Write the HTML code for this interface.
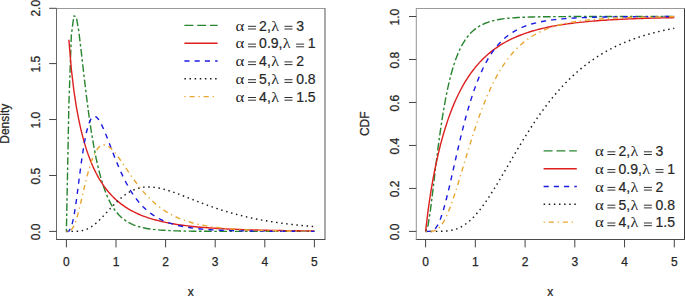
<!DOCTYPE html>
<html><head><meta charset="utf-8"><style>
html,body{margin:0;padding:0;background:#fff;}
svg{display:block;}
.t{font-family:"Liberation Sans",sans-serif;font-size:12px;fill:#262626;stroke:#262626;stroke-width:0.25px;}
.lg{font-family:"Liberation Sans",sans-serif;font-size:14px;fill:#262626;stroke:#262626;stroke-width:0.2px;}
.gk{font-family:"Liberation Serif",serif;fill:#262626;}
.eq{stroke:#333;stroke-width:1;}
</style></head><body>
<svg width="685" height="296" viewBox="0 0 685 296">
<rect width="685" height="296" fill="#fff"/>
<line x1="56.0" y1="8.5" x2="325.3" y2="8.5" stroke="#999" stroke-width="1"/>
<line x1="56.0" y1="239.5" x2="325.3" y2="239.5" stroke="#4a4a4a" stroke-width="1"/>
<line x1="56.5" y1="8.5" x2="56.5" y2="239.5" stroke="#6a6a6a" stroke-width="1"/>
<line x1="325.0" y1="8.5" x2="325.0" y2="239.5" stroke="#555" stroke-width="1"/>
<line x1="66.40" y1="239.5" x2="66.40" y2="247.40" stroke="#444" stroke-width="1"/>
<text x="66.40" y="266.30" text-anchor="middle" class="t">0</text>
<line x1="116.00" y1="239.5" x2="116.00" y2="247.40" stroke="#444" stroke-width="1"/>
<text x="116.00" y="266.30" text-anchor="middle" class="t">1</text>
<line x1="165.60" y1="239.5" x2="165.60" y2="247.40" stroke="#444" stroke-width="1"/>
<text x="165.60" y="266.30" text-anchor="middle" class="t">2</text>
<line x1="215.20" y1="239.5" x2="215.20" y2="247.40" stroke="#444" stroke-width="1"/>
<text x="215.20" y="266.30" text-anchor="middle" class="t">3</text>
<line x1="264.80" y1="239.5" x2="264.80" y2="247.40" stroke="#444" stroke-width="1"/>
<text x="264.80" y="266.30" text-anchor="middle" class="t">4</text>
<line x1="314.40" y1="239.5" x2="314.40" y2="247.40" stroke="#444" stroke-width="1"/>
<text x="314.40" y="266.30" text-anchor="middle" class="t">5</text>
<line x1="49.20" y1="231.40" x2="56.5" y2="231.40" stroke="#444" stroke-width="1"/>
<text transform="translate(39.50,232.00) rotate(-90)" text-anchor="middle" class="t">0.0</text>
<line x1="49.20" y1="175.47" x2="56.5" y2="175.47" stroke="#444" stroke-width="1"/>
<text transform="translate(39.50,176.06) rotate(-90)" text-anchor="middle" class="t">0.5</text>
<line x1="49.20" y1="119.53" x2="56.5" y2="119.53" stroke="#444" stroke-width="1"/>
<text transform="translate(39.50,120.13) rotate(-90)" text-anchor="middle" class="t">1.0</text>
<line x1="49.20" y1="63.59" x2="56.5" y2="63.59" stroke="#444" stroke-width="1"/>
<text transform="translate(39.50,64.19) rotate(-90)" text-anchor="middle" class="t">1.5</text>
<line x1="49.20" y1="8.30" x2="56.5" y2="8.30" stroke="#444" stroke-width="1"/>
<text transform="translate(39.50,8.26) rotate(-90)" text-anchor="middle" class="t">2.0</text>
<text x="190.65" y="296.00" text-anchor="middle" class="t">x</text>
<text transform="translate(9.10,123.75) rotate(-90)" text-anchor="middle" class="t">Density</text>
<line x1="415.8" y1="8.5" x2="684.8" y2="8.5" stroke="#999" stroke-width="1"/>
<line x1="415.8" y1="239.5" x2="684.8" y2="239.5" stroke="#4a4a4a" stroke-width="1"/>
<line x1="416.3" y1="8.5" x2="416.3" y2="239.5" stroke="#949494" stroke-width="1"/>
<line x1="684.5" y1="8.5" x2="684.5" y2="239.5" stroke="#3a3a3a" stroke-width="1"/>
<line x1="425.60" y1="239.5" x2="425.60" y2="247.40" stroke="#444" stroke-width="1"/>
<text x="425.60" y="266.30" text-anchor="middle" class="t">0</text>
<line x1="475.34" y1="239.5" x2="475.34" y2="247.40" stroke="#444" stroke-width="1"/>
<text x="475.34" y="266.30" text-anchor="middle" class="t">1</text>
<line x1="525.08" y1="239.5" x2="525.08" y2="247.40" stroke="#444" stroke-width="1"/>
<text x="525.08" y="266.30" text-anchor="middle" class="t">2</text>
<line x1="574.82" y1="239.5" x2="574.82" y2="247.40" stroke="#444" stroke-width="1"/>
<text x="574.82" y="266.30" text-anchor="middle" class="t">3</text>
<line x1="624.56" y1="239.5" x2="624.56" y2="247.40" stroke="#444" stroke-width="1"/>
<text x="624.56" y="266.30" text-anchor="middle" class="t">4</text>
<line x1="674.30" y1="239.5" x2="674.30" y2="247.40" stroke="#444" stroke-width="1"/>
<text x="674.30" y="266.30" text-anchor="middle" class="t">5</text>
<line x1="409.00" y1="231.40" x2="416.3" y2="231.40" stroke="#444" stroke-width="1"/>
<text transform="translate(399.30,232.00) rotate(-90)" text-anchor="middle" class="t">0.0</text>
<line x1="409.00" y1="188.42" x2="416.3" y2="188.42" stroke="#444" stroke-width="1"/>
<text transform="translate(399.30,189.02) rotate(-90)" text-anchor="middle" class="t">0.2</text>
<line x1="409.00" y1="145.44" x2="416.3" y2="145.44" stroke="#444" stroke-width="1"/>
<text transform="translate(399.30,146.04) rotate(-90)" text-anchor="middle" class="t">0.4</text>
<line x1="409.00" y1="102.46" x2="416.3" y2="102.46" stroke="#444" stroke-width="1"/>
<text transform="translate(399.30,103.06) rotate(-90)" text-anchor="middle" class="t">0.6</text>
<line x1="409.00" y1="59.48" x2="416.3" y2="59.48" stroke="#444" stroke-width="1"/>
<text transform="translate(399.30,60.08) rotate(-90)" text-anchor="middle" class="t">0.8</text>
<line x1="409.00" y1="16.50" x2="416.3" y2="16.50" stroke="#444" stroke-width="1"/>
<text transform="translate(399.30,17.10) rotate(-90)" text-anchor="middle" class="t">1.0</text>
<text x="550.30" y="296.00" text-anchor="middle" class="t">x</text>
<text transform="translate(368.90,123.75) rotate(-90)" text-anchor="middle" class="t">CDF</text>
<polyline points="66.40,231.40 68.88,104.22 71.36,35.00 73.84,15.83 76.32,17.06 78.80,31.38 81.28,51.94 83.76,73.67 86.24,94.59 88.72,113.74 91.20,130.77 93.68,145.64 96.16,158.48 98.64,169.47 101.12,178.84 103.60,186.80 106.08,193.54 108.56,199.24 111.04,204.07 113.52,208.15 116.00,211.61 118.48,214.53 120.96,217.01 123.44,219.11 125.92,220.89 128.40,222.41 130.88,223.70 133.36,224.79 135.84,225.73 138.32,226.52 140.80,227.21 143.28,227.79 145.76,228.29 148.24,228.71 150.72,229.08 153.20,229.40 155.68,229.67 158.16,229.90 160.64,230.10 163.12,230.27 165.60,230.42 168.08,230.55 170.56,230.66 173.04,230.76 175.52,230.84 178.00,230.91 180.48,230.97 182.96,231.03 185.44,231.08 187.92,231.12 190.40,231.15 192.88,231.18 195.36,231.21 197.84,231.23 200.32,231.26 202.80,231.27 205.28,231.29 207.76,231.30 210.24,231.31 212.72,231.32 215.20,231.33 217.68,231.34 220.16,231.35 222.64,231.36 225.12,231.36 227.60,231.37 230.08,231.37 232.56,231.37 235.04,231.38 237.52,231.38 240.00,231.38 242.48,231.38 244.96,231.39 247.44,231.39 249.92,231.39 252.40,231.39 254.88,231.39 257.36,231.39 259.84,231.39 262.32,231.39 264.80,231.39 267.28,231.40 269.76,231.40 272.24,231.40 274.72,231.40 277.20,231.40 279.68,231.40 282.16,231.40 284.64,231.40 287.12,231.40 289.60,231.40 292.08,231.40 294.56,231.40 297.04,231.40 299.52,231.40 302.00,231.40 304.48,231.40 306.96,231.40 309.44,231.40 311.92,231.40 314.40,231.40" fill="none" stroke="#27842F" stroke-width="1.4" stroke-dasharray="2.56 2.56 7.68 2.56" stroke-linejoin="round"/>
<polyline points="68.88,39.70 71.36,69.37 73.84,90.27 76.32,106.56 78.80,119.86 81.28,131.03 83.76,140.58 86.24,148.86 88.72,156.11 91.20,162.50 93.68,168.18 96.16,173.25 98.64,177.80 101.12,181.91 103.60,185.61 106.08,188.98 108.56,192.04 111.04,194.83 113.52,197.38 116.00,199.72 118.48,201.86 120.96,203.83 123.44,205.65 125.92,207.32 128.40,208.87 130.88,210.30 133.36,211.62 135.84,212.85 138.32,213.99 140.80,215.05 143.28,216.03 145.76,216.95 148.24,217.80 150.72,218.60 153.20,219.34 155.68,220.03 158.16,220.68 160.64,221.29 163.12,221.86 165.60,222.39 168.08,222.89 170.56,223.35 173.04,223.79 175.52,224.21 178.00,224.59 180.48,224.96 182.96,225.30 185.44,225.62 187.92,225.92 190.40,226.21 192.88,226.48 195.36,226.73 197.84,226.97 200.32,227.20 202.80,227.41 205.28,227.61 207.76,227.80 210.24,227.98 212.72,228.15 215.20,228.31 217.68,228.46 220.16,228.60 222.64,228.74 225.12,228.87 227.60,228.99 230.08,229.11 232.56,229.22 235.04,229.32 237.52,229.42 240.00,229.51 242.48,229.60 244.96,229.68 247.44,229.76 249.92,229.84 252.40,229.91 254.88,229.98 257.36,230.05 259.84,230.11 262.32,230.17 264.80,230.22 267.28,230.28 269.76,230.33 272.24,230.37 274.72,230.42 277.20,230.46 279.68,230.50 282.16,230.54 284.64,230.58 287.12,230.62 289.60,230.65 292.08,230.68 294.56,230.72 297.04,230.75 299.52,230.77 302.00,230.80 304.48,230.83 306.96,230.85 309.44,230.87 311.92,230.90 314.40,230.92" fill="none" stroke="#DD1F1F" stroke-width="1.4" stroke-linejoin="round"/>
<polyline points="66.40,231.40 68.88,231.09 71.36,227.33 73.84,216.98 76.32,200.78 78.80,181.67 81.28,162.71 83.76,146.09 86.24,133.00 88.72,123.82 91.20,118.40 93.68,116.26 96.16,116.83 98.64,119.52 101.12,123.75 103.60,129.06 106.08,135.05 108.56,141.40 111.04,147.88 113.52,154.30 116.00,160.54 118.48,166.51 120.96,172.14 123.44,177.43 125.92,182.33 128.40,186.86 130.88,191.03 133.36,194.85 135.84,198.33 138.32,201.49 140.80,204.37 143.28,206.98 145.76,209.34 148.24,211.48 150.72,213.41 153.20,215.15 155.68,216.72 158.16,218.14 160.64,219.42 163.12,220.57 165.60,221.61 168.08,222.55 170.56,223.39 173.04,224.15 175.52,224.84 178.00,225.46 180.48,226.02 182.96,226.53 185.44,226.98 187.92,227.39 190.40,227.77 192.88,228.10 195.36,228.41 197.84,228.68 200.32,228.93 202.80,229.16 205.28,229.36 207.76,229.54 210.24,229.71 212.72,229.86 215.20,230.00 217.68,230.13 220.16,230.24 222.64,230.34 225.12,230.44 227.60,230.52 230.08,230.60 232.56,230.67 235.04,230.73 237.52,230.79 240.00,230.84 242.48,230.89 244.96,230.93 247.44,230.97 249.92,231.01 252.40,231.04 254.88,231.07 257.36,231.10 259.84,231.13 262.32,231.15 264.80,231.17 267.28,231.19 269.76,231.21 272.24,231.22 274.72,231.24 277.20,231.25 279.68,231.26 282.16,231.27 284.64,231.29 287.12,231.29 289.60,231.30 292.08,231.31 294.56,231.32 297.04,231.32 299.52,231.33 302.00,231.34 304.48,231.34 306.96,231.35 309.44,231.35 311.92,231.35 314.40,231.36" fill="none" stroke="#1A1AE0" stroke-width="1.4" stroke-dasharray="5.12 5.12" stroke-linejoin="round"/>
<polyline points="66.40,231.40 68.88,231.40 71.36,231.40 73.84,231.38 76.32,231.32 78.80,231.16 81.28,230.84 83.76,230.28 86.24,229.46 88.72,228.33 91.20,226.88 93.68,225.12 96.16,223.09 98.64,220.82 101.12,218.36 103.60,215.77 106.08,213.10 108.56,210.40 111.04,207.73 113.52,205.13 116.00,202.63 118.48,200.28 120.96,198.09 123.44,196.08 125.92,194.27 128.40,192.66 130.88,191.26 133.36,190.07 135.84,189.09 138.32,188.30 140.80,187.70 143.28,187.29 145.76,187.04 148.24,186.95 150.72,187.01 153.20,187.19 155.68,187.50 158.16,187.92 160.64,188.43 163.12,189.03 165.60,189.71 168.08,190.45 170.56,191.24 173.04,192.08 175.52,192.96 178.00,193.88 180.48,194.81 182.96,195.77 185.44,196.74 187.92,197.71 190.40,198.69 192.88,199.67 195.36,200.64 197.84,201.60 200.32,202.56 202.80,203.50 205.28,204.43 207.76,205.34 210.24,206.24 212.72,207.11 215.20,207.97 217.68,208.80 220.16,209.62 222.64,210.41 225.12,211.18 227.60,211.93 230.08,212.65 232.56,213.35 235.04,214.03 237.52,214.69 240.00,215.33 242.48,215.95 244.96,216.54 247.44,217.12 249.92,217.67 252.40,218.20 254.88,218.72 257.36,219.22 259.84,219.69 262.32,220.15 264.80,220.60 267.28,221.02 269.76,221.43 272.24,221.83 274.72,222.21 277.20,222.57 279.68,222.92 282.16,223.26 284.64,223.58 287.12,223.89 289.60,224.19 292.08,224.48 294.56,224.75 297.04,225.02 299.52,225.27 302.00,225.52 304.48,225.75 306.96,225.97 309.44,226.19 311.92,226.40 314.40,226.60" fill="none" stroke="#1a1a1a" stroke-width="1.45" stroke-dasharray="1.5 3.62" stroke-linejoin="round"/>
<polyline points="66.40,231.40 68.88,231.29 71.36,229.99 73.84,226.22 76.32,219.65 78.80,210.77 81.28,200.49 83.76,189.78 86.24,179.44 88.72,170.07 91.20,162.05 93.68,155.59 96.16,150.71 98.64,147.38 101.12,145.45 103.60,144.78 106.08,145.17 108.56,146.46 111.04,148.47 113.52,151.05 116.00,154.04 118.48,157.35 120.96,160.85 123.44,164.47 125.92,168.14 128.40,171.79 130.88,175.39 133.36,178.89 135.84,182.28 138.32,185.54 140.80,188.64 143.28,191.60 145.76,194.39 148.24,197.02 150.72,199.50 153.20,201.82 155.68,203.99 158.16,206.01 160.64,207.90 163.12,209.66 165.60,211.29 168.08,212.81 170.56,214.21 173.04,215.52 175.52,216.72 178.00,217.84 180.48,218.87 182.96,219.83 185.44,220.71 187.92,221.52 190.40,222.27 192.88,222.97 195.36,223.61 197.84,224.20 200.32,224.75 202.80,225.25 205.28,225.72 207.76,226.15 210.24,226.55 212.72,226.91 215.20,227.25 217.68,227.56 220.16,227.85 222.64,228.12 225.12,228.36 227.60,228.59 230.08,228.80 232.56,228.99 235.04,229.17 237.52,229.34 240.00,229.49 242.48,229.63 244.96,229.76 247.44,229.88 249.92,229.99 252.40,230.09 254.88,230.19 257.36,230.28 259.84,230.36 262.32,230.43 264.80,230.50 267.28,230.57 269.76,230.63 272.24,230.68 274.72,230.74 277.20,230.78 279.68,230.83 282.16,230.87 284.64,230.91 287.12,230.94 289.60,230.97 292.08,231.00 294.56,231.03 297.04,231.06 299.52,231.08 302.00,231.10 304.48,231.13 306.96,231.14 309.44,231.16 311.92,231.18 314.40,231.19" fill="none" stroke="#EAA630" stroke-width="1.4" stroke-dasharray="1.28 3.84 5.12 3.84" stroke-linejoin="round"/>
<polyline points="425.60,231.40 428.09,225.14 430.57,209.11 433.06,188.91 435.55,167.92 438.04,147.90 440.52,129.65 443.01,113.46 445.50,99.33 447.98,87.12 450.47,76.66 452.96,67.72 455.44,60.12 457.93,53.65 460.42,48.17 462.91,43.51 465.39,39.56 467.88,36.21 470.37,33.36 472.85,30.93 475.34,28.87 477.83,27.11 480.31,25.62 482.80,24.34 485.29,23.25 487.78,22.31 490.26,21.51 492.75,20.83 495.24,20.24 497.72,19.73 500.21,19.30 502.70,18.92 505.18,18.60 507.67,18.32 510.16,18.08 512.64,17.88 515.13,17.70 517.62,17.54 520.11,17.41 522.59,17.29 525.08,17.19 527.57,17.10 530.05,17.03 532.54,16.96 535.03,16.90 537.51,16.85 540.00,16.81 542.49,16.77 544.98,16.74 547.46,16.71 549.95,16.68 552.44,16.66 554.92,16.64 557.41,16.62 559.90,16.61 562.38,16.59 564.87,16.58 567.36,16.57 569.85,16.56 572.33,16.56 574.82,16.55 577.31,16.54 579.79,16.54 582.28,16.53 584.77,16.53 587.25,16.53 589.74,16.52 592.23,16.52 594.72,16.52 597.20,16.52 599.69,16.51 602.18,16.51 604.66,16.51 607.15,16.51 609.64,16.51 612.12,16.51 614.61,16.51 617.10,16.51 619.59,16.51 622.07,16.50 624.56,16.50 627.05,16.50 629.53,16.50 632.02,16.50 634.51,16.50 637.00,16.50 639.48,16.50 641.97,16.50 644.46,16.50 646.94,16.50 649.43,16.50 651.92,16.50 654.40,16.50 656.89,16.50 659.38,16.50 661.87,16.50 664.35,16.50 666.84,16.50 669.33,16.50 671.81,16.50 674.30,16.50" fill="none" stroke="#27842F" stroke-width="1.4" stroke-dasharray="2.56 2.56 7.68 2.56" stroke-linejoin="round"/>
<polyline points="425.60,231.40 428.09,210.32 430.57,193.44 433.06,178.93 435.55,166.18 438.04,154.85 440.52,144.69 443.01,135.52 445.50,127.20 447.98,119.63 450.47,112.71 452.96,106.37 455.44,100.55 457.93,95.19 460.42,90.24 462.91,85.67 465.39,81.43 467.88,77.51 470.37,73.86 472.85,70.47 475.34,67.32 477.83,64.38 480.31,61.64 482.80,59.08 485.29,56.69 487.78,54.45 490.26,52.36 492.75,50.39 495.24,48.55 497.72,46.83 500.21,45.21 502.70,43.68 505.18,42.25 507.67,40.91 510.16,39.64 512.64,38.44 515.13,37.32 517.62,36.26 520.11,35.26 522.59,34.31 525.08,33.42 527.57,32.58 530.05,31.79 532.54,31.04 535.03,30.33 537.51,29.65 540.00,29.02 542.49,28.41 544.98,27.84 547.46,27.30 549.95,26.79 552.44,26.31 554.92,25.85 557.41,25.41 559.90,24.99 562.38,24.60 564.87,24.23 567.36,23.87 569.85,23.54 572.33,23.21 574.82,22.91 577.31,22.62 579.79,22.35 582.28,22.08 584.77,21.83 587.25,21.60 589.74,21.37 592.23,21.16 594.72,20.95 597.20,20.76 599.69,20.57 602.18,20.39 604.66,20.23 607.15,20.06 609.64,19.91 612.12,19.76 614.61,19.63 617.10,19.49 619.59,19.36 622.07,19.24 624.56,19.13 627.05,19.02 629.53,18.91 632.02,18.81 634.51,18.71 637.00,18.62 639.48,18.53 641.97,18.45 644.46,18.37 646.94,18.29 649.43,18.22 651.92,18.15 654.40,18.08 656.89,18.02 659.38,17.96 661.87,17.90 664.35,17.84 666.84,17.79 669.33,17.74 671.81,17.69 674.30,17.64" fill="none" stroke="#DD1F1F" stroke-width="1.4" stroke-linejoin="round"/>
<polyline points="425.60,231.40 428.09,231.39 430.57,231.23 433.06,230.40 435.55,228.27 438.04,224.42 440.52,218.72 443.01,211.30 445.50,202.45 447.98,192.53 450.47,181.91 452.96,170.92 455.44,159.87 457.93,148.98 460.42,138.43 462.91,128.34 465.39,118.79 467.88,109.84 470.37,101.51 472.85,93.80 475.34,86.69 477.83,80.17 480.31,74.22 482.80,68.78 485.29,63.83 487.78,59.34 490.26,55.27 492.75,51.58 495.24,48.24 497.72,45.21 500.21,42.48 502.70,40.01 505.18,37.78 507.67,35.77 510.16,33.95 512.64,32.30 515.13,30.82 517.62,29.48 520.11,28.27 522.59,27.17 525.08,26.18 527.57,25.29 530.05,24.48 532.54,23.75 535.03,23.09 537.51,22.49 540.00,21.94 542.49,21.45 544.98,21.00 547.46,20.60 549.95,20.23 552.44,19.90 554.92,19.60 557.41,19.32 559.90,19.08 562.38,18.85 564.87,18.64 567.36,18.46 569.85,18.29 572.33,18.13 574.82,17.99 577.31,17.86 579.79,17.75 582.28,17.64 584.77,17.54 587.25,17.45 589.74,17.37 592.23,17.30 594.72,17.23 597.20,17.17 599.69,17.11 602.18,17.06 604.66,17.02 607.15,16.97 609.64,16.93 612.12,16.90 614.61,16.87 617.10,16.84 619.59,16.81 622.07,16.78 624.56,16.76 627.05,16.74 629.53,16.72 632.02,16.70 634.51,16.69 637.00,16.67 639.48,16.66 641.97,16.64 644.46,16.63 646.94,16.62 649.43,16.61 651.92,16.60 654.40,16.60 656.89,16.59 659.38,16.58 661.87,16.57 664.35,16.57 666.84,16.56 669.33,16.56 671.81,16.55 674.30,16.55" fill="none" stroke="#1A1AE0" stroke-width="1.4" stroke-dasharray="5.12 5.12" stroke-linejoin="round"/>
<polyline points="425.60,231.40 428.09,231.40 430.57,231.40 433.06,231.40 435.55,231.40 438.04,231.38 440.52,231.34 443.01,231.27 445.50,231.12 447.98,230.88 450.47,230.52 452.96,230.00 455.44,229.31 457.93,228.40 460.42,227.27 462.91,225.89 465.39,224.26 467.88,222.37 470.37,220.23 472.85,217.83 475.34,215.18 477.83,212.31 480.31,209.21 482.80,205.91 485.29,202.43 487.78,198.79 490.26,195.00 492.75,191.08 495.24,187.06 497.72,182.96 500.21,178.79 502.70,174.57 505.18,170.32 507.67,166.06 510.16,161.79 512.64,157.53 515.13,153.30 517.62,149.10 520.11,144.95 522.59,140.85 525.08,136.81 527.57,132.85 530.05,128.95 532.54,125.13 535.03,121.40 537.51,117.75 540.00,114.19 542.49,110.72 544.98,107.35 547.46,104.06 549.95,100.87 552.44,97.78 554.92,94.78 557.41,91.87 559.90,89.05 562.38,86.33 564.87,83.70 567.36,81.15 569.85,78.69 572.33,76.31 574.82,74.02 577.31,71.81 579.79,69.68 582.28,67.63 584.77,65.65 587.25,63.74 589.74,61.91 592.23,60.14 594.72,58.44 597.20,56.80 599.69,55.23 602.18,53.72 604.66,52.26 607.15,50.86 609.64,49.52 612.12,48.22 614.61,46.98 617.10,45.79 619.59,44.64 622.07,43.54 624.56,42.48 627.05,41.46 629.53,40.48 632.02,39.55 634.51,38.64 637.00,37.78 639.48,36.95 641.97,36.15 644.46,35.38 646.94,34.65 649.43,33.94 651.92,33.26 654.40,32.61 656.89,31.99 659.38,31.39 661.87,30.81 664.35,30.25 666.84,29.72 669.33,29.21 671.81,28.72 674.30,28.25" fill="none" stroke="#1a1a1a" stroke-width="1.45" stroke-dasharray="1.5 3.62" stroke-linejoin="round"/>
<polyline points="425.60,231.40 428.09,231.40 430.57,231.34 433.06,231.05 435.55,230.26 438.04,228.71 440.52,226.25 443.01,222.76 445.50,218.26 447.98,212.81 450.47,206.52 452.96,199.54 455.44,192.01 457.93,184.09 460.42,175.92 462.91,167.62 465.39,159.31 467.88,151.08 470.37,143.02 472.85,135.17 475.34,127.60 477.83,120.32 480.31,113.38 482.80,106.77 485.29,100.52 487.78,94.62 490.26,89.07 492.75,83.86 495.24,78.98 497.72,74.42 500.21,70.16 502.70,66.20 505.18,62.51 507.67,59.08 510.16,55.90 512.64,52.95 515.13,50.22 517.62,47.68 520.11,45.33 522.59,43.16 525.08,41.15 527.57,39.30 530.05,37.58 532.54,35.99 535.03,34.52 537.51,33.17 540.00,31.92 542.49,30.76 544.98,29.69 547.46,28.70 549.95,27.79 552.44,26.95 554.92,26.17 557.41,25.45 559.90,24.79 562.38,24.17 564.87,23.60 567.36,23.08 569.85,22.59 572.33,22.15 574.82,21.73 577.31,21.35 579.79,20.99 582.28,20.67 584.77,20.36 587.25,20.08 589.74,19.82 592.23,19.58 594.72,19.36 597.20,19.15 599.69,18.96 602.18,18.78 604.66,18.62 607.15,18.47 609.64,18.33 612.12,18.20 614.61,18.08 617.10,17.97 619.59,17.86 622.07,17.77 624.56,17.68 627.05,17.59 629.53,17.52 632.02,17.45 634.51,17.38 637.00,17.32 639.48,17.26 641.97,17.21 644.46,17.16 646.94,17.11 649.43,17.07 651.92,17.03 654.40,16.99 656.89,16.96 659.38,16.93 661.87,16.90 664.35,16.87 666.84,16.85 669.33,16.82 671.81,16.80 674.30,16.78" fill="none" stroke="#EAA630" stroke-width="1.4" stroke-dasharray="1.28 3.84 5.12 3.84" stroke-linejoin="round"/>
<polyline points="184.4,25.4 217.6,25.4" fill="none" stroke="#27842F" stroke-width="1.4" stroke-dasharray="8.96 3.84" stroke-linejoin="round"/>
<text transform="translate(239.90,30.60) scale(1.12,1)" text-anchor="middle" class="gk" font-size="15">α</text>
<line x1="248.00" y1="26.30" x2="256.00" y2="26.30" class="eq"/><line x1="248.00" y1="29.00" x2="256.00" y2="29.00" class="eq"/>
<text x="259.10" y="30.60" class="lg">2,</text>
<text transform="translate(275.03,30.60) scale(1.15,1)" text-anchor="middle" class="gk" font-size="14">λ</text>
<line x1="284.48" y1="26.30" x2="292.48" y2="26.30" class="eq"/><line x1="284.48" y1="29.00" x2="292.48" y2="29.00" class="eq"/>
<text x="296.18" y="30.60" class="lg">3</text>
<polyline points="184.4,43.2 217.6,43.2" fill="none" stroke="#DD1F1F" stroke-width="1.4" stroke-linejoin="round"/>
<text transform="translate(239.90,48.40) scale(1.12,1)" text-anchor="middle" class="gk" font-size="15">α</text>
<line x1="248.00" y1="44.10" x2="256.00" y2="44.10" class="eq"/><line x1="248.00" y1="46.80" x2="256.00" y2="46.80" class="eq"/>
<text x="259.10" y="48.40" class="lg">0.9,</text>
<text transform="translate(286.70,48.40) scale(1.15,1)" text-anchor="middle" class="gk" font-size="14">λ</text>
<line x1="296.15" y1="44.10" x2="304.15" y2="44.10" class="eq"/><line x1="296.15" y1="46.80" x2="304.15" y2="46.80" class="eq"/>
<text x="307.85" y="48.40" class="lg">1</text>
<polyline points="184.4,61.0 217.6,61.0" fill="none" stroke="#1A1AE0" stroke-width="1.4" stroke-dasharray="5.12 5.12" stroke-linejoin="round"/>
<text transform="translate(239.90,66.20) scale(1.12,1)" text-anchor="middle" class="gk" font-size="15">α</text>
<line x1="248.00" y1="61.90" x2="256.00" y2="61.90" class="eq"/><line x1="248.00" y1="64.60" x2="256.00" y2="64.60" class="eq"/>
<text x="259.10" y="66.20" class="lg">4,</text>
<text transform="translate(275.03,66.20) scale(1.15,1)" text-anchor="middle" class="gk" font-size="14">λ</text>
<line x1="284.48" y1="61.90" x2="292.48" y2="61.90" class="eq"/><line x1="284.48" y1="64.60" x2="292.48" y2="64.60" class="eq"/>
<text x="296.18" y="66.20" class="lg">2</text>
<polyline points="184.4,78.80000000000001 217.6,78.80000000000001" fill="none" stroke="#1a1a1a" stroke-width="1.45" stroke-dasharray="1.5 3.62" stroke-linejoin="round"/>
<text transform="translate(239.90,84.00) scale(1.12,1)" text-anchor="middle" class="gk" font-size="15">α</text>
<line x1="248.00" y1="79.70" x2="256.00" y2="79.70" class="eq"/><line x1="248.00" y1="82.40" x2="256.00" y2="82.40" class="eq"/>
<text x="259.10" y="84.00" class="lg">5,</text>
<text transform="translate(275.03,84.00) scale(1.15,1)" text-anchor="middle" class="gk" font-size="14">λ</text>
<line x1="284.48" y1="79.70" x2="292.48" y2="79.70" class="eq"/><line x1="284.48" y1="82.40" x2="292.48" y2="82.40" class="eq"/>
<text x="296.18" y="84.00" class="lg">0.8</text>
<polyline points="184.4,96.6 217.6,96.6" fill="none" stroke="#EAA630" stroke-width="1.4" stroke-dasharray="1.28 3.84 5.12 3.84" stroke-linejoin="round"/>
<text transform="translate(239.90,101.80) scale(1.12,1)" text-anchor="middle" class="gk" font-size="15">α</text>
<line x1="248.00" y1="97.50" x2="256.00" y2="97.50" class="eq"/><line x1="248.00" y1="100.20" x2="256.00" y2="100.20" class="eq"/>
<text x="259.10" y="101.80" class="lg">4,</text>
<text transform="translate(275.03,101.80) scale(1.15,1)" text-anchor="middle" class="gk" font-size="14">λ</text>
<line x1="284.48" y1="97.50" x2="292.48" y2="97.50" class="eq"/><line x1="284.48" y1="100.20" x2="292.48" y2="100.20" class="eq"/>
<text x="296.18" y="101.80" class="lg">1.5</text>
<polyline points="543.6,150.9 576.8,150.9" fill="none" stroke="#27842F" stroke-width="1.4" stroke-dasharray="8.96 3.84" stroke-linejoin="round"/>
<text transform="translate(599.30,156.10) scale(1.12,1)" text-anchor="middle" class="gk" font-size="15">α</text>
<line x1="607.40" y1="151.80" x2="615.40" y2="151.80" class="eq"/><line x1="607.40" y1="154.50" x2="615.40" y2="154.50" class="eq"/>
<text x="618.50" y="156.10" class="lg">2,</text>
<text transform="translate(634.43,156.10) scale(1.15,1)" text-anchor="middle" class="gk" font-size="14">λ</text>
<line x1="643.88" y1="151.80" x2="651.88" y2="151.80" class="eq"/><line x1="643.88" y1="154.50" x2="651.88" y2="154.50" class="eq"/>
<text x="655.58" y="156.10" class="lg">3</text>
<polyline points="543.6,168.70000000000002 576.8,168.70000000000002" fill="none" stroke="#DD1F1F" stroke-width="1.4" stroke-linejoin="round"/>
<text transform="translate(599.30,173.90) scale(1.12,1)" text-anchor="middle" class="gk" font-size="15">α</text>
<line x1="607.40" y1="169.60" x2="615.40" y2="169.60" class="eq"/><line x1="607.40" y1="172.30" x2="615.40" y2="172.30" class="eq"/>
<text x="618.50" y="173.90" class="lg">0.9,</text>
<text transform="translate(646.10,173.90) scale(1.15,1)" text-anchor="middle" class="gk" font-size="14">λ</text>
<line x1="655.55" y1="169.60" x2="663.55" y2="169.60" class="eq"/><line x1="655.55" y1="172.30" x2="663.55" y2="172.30" class="eq"/>
<text x="667.25" y="173.90" class="lg">1</text>
<polyline points="543.6,186.5 576.8,186.5" fill="none" stroke="#1A1AE0" stroke-width="1.4" stroke-dasharray="5.12 5.12" stroke-linejoin="round"/>
<text transform="translate(599.30,191.70) scale(1.12,1)" text-anchor="middle" class="gk" font-size="15">α</text>
<line x1="607.40" y1="187.40" x2="615.40" y2="187.40" class="eq"/><line x1="607.40" y1="190.10" x2="615.40" y2="190.10" class="eq"/>
<text x="618.50" y="191.70" class="lg">4,</text>
<text transform="translate(634.43,191.70) scale(1.15,1)" text-anchor="middle" class="gk" font-size="14">λ</text>
<line x1="643.88" y1="187.40" x2="651.88" y2="187.40" class="eq"/><line x1="643.88" y1="190.10" x2="651.88" y2="190.10" class="eq"/>
<text x="655.58" y="191.70" class="lg">2</text>
<polyline points="543.6,204.3 576.8,204.3" fill="none" stroke="#1a1a1a" stroke-width="1.45" stroke-dasharray="1.5 3.62" stroke-linejoin="round"/>
<text transform="translate(599.30,209.50) scale(1.12,1)" text-anchor="middle" class="gk" font-size="15">α</text>
<line x1="607.40" y1="205.20" x2="615.40" y2="205.20" class="eq"/><line x1="607.40" y1="207.90" x2="615.40" y2="207.90" class="eq"/>
<text x="618.50" y="209.50" class="lg">5,</text>
<text transform="translate(634.43,209.50) scale(1.15,1)" text-anchor="middle" class="gk" font-size="14">λ</text>
<line x1="643.88" y1="205.20" x2="651.88" y2="205.20" class="eq"/><line x1="643.88" y1="207.90" x2="651.88" y2="207.90" class="eq"/>
<text x="655.58" y="209.50" class="lg">0.8</text>
<polyline points="543.6,222.10000000000002 576.8,222.10000000000002" fill="none" stroke="#EAA630" stroke-width="1.4" stroke-dasharray="1.28 3.84 5.12 3.84" stroke-linejoin="round"/>
<text transform="translate(599.30,227.30) scale(1.12,1)" text-anchor="middle" class="gk" font-size="15">α</text>
<line x1="607.40" y1="223.00" x2="615.40" y2="223.00" class="eq"/><line x1="607.40" y1="225.70" x2="615.40" y2="225.70" class="eq"/>
<text x="618.50" y="227.30" class="lg">4,</text>
<text transform="translate(634.43,227.30) scale(1.15,1)" text-anchor="middle" class="gk" font-size="14">λ</text>
<line x1="643.88" y1="223.00" x2="651.88" y2="223.00" class="eq"/><line x1="643.88" y1="225.70" x2="651.88" y2="225.70" class="eq"/>
<text x="655.58" y="227.30" class="lg">1.5</text>
</svg></body></html>
